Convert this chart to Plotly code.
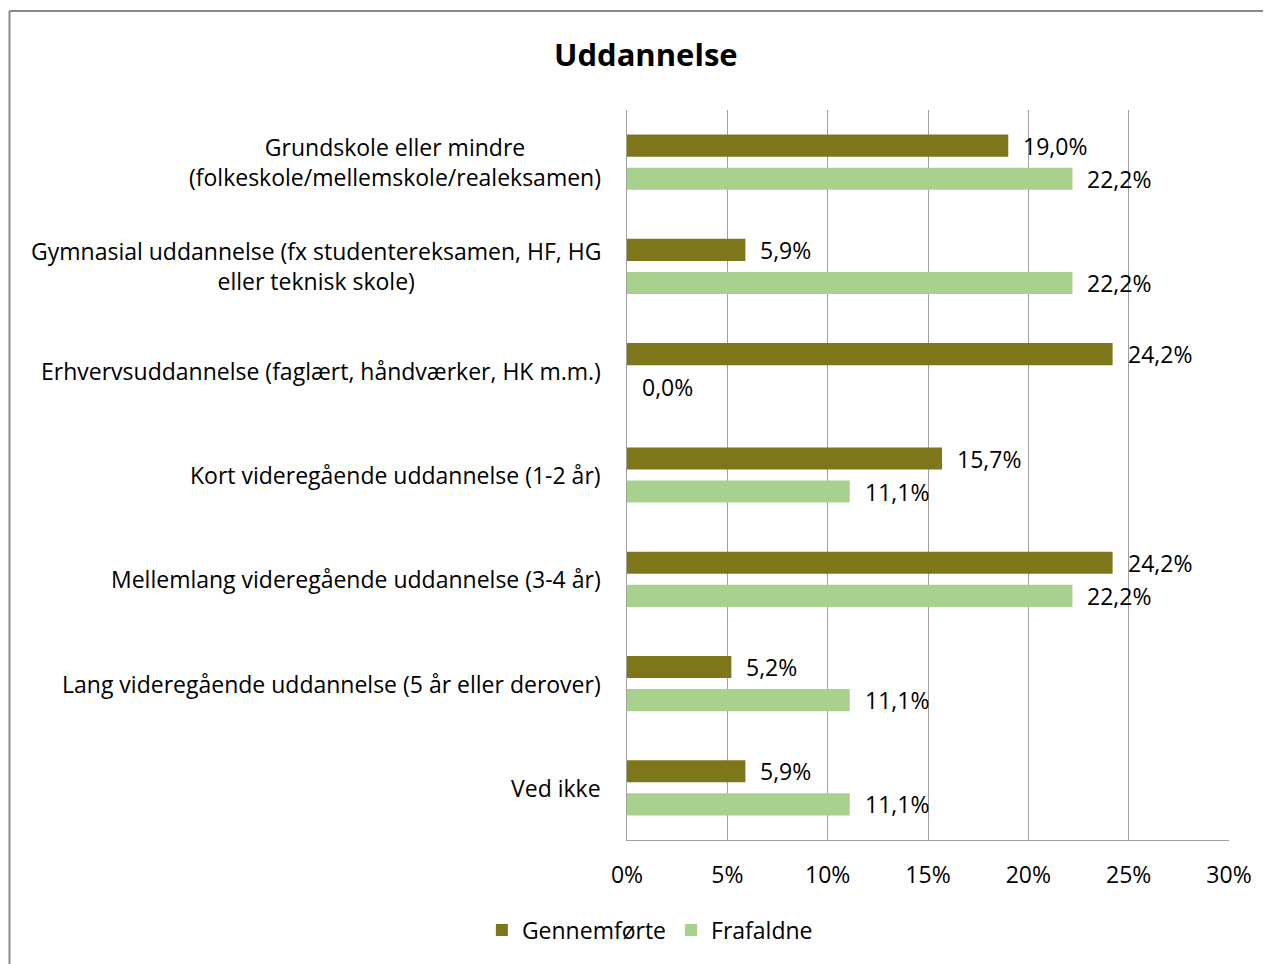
import plotly.graph_objects as go

categories = [
    "Grundskole eller mindre<br>(folkeskole/mellemskole/realeksamen)",
    "Gymnasial uddannelse (fx studentereksamen, HF, HG<br>eller teknisk skole)",
    "Erhvervsuddannelse (faglært, håndværker, HK m.m.)",
    "Kort videregående uddannelse (1-2 år)",
    "Mellemlang videregående uddannelse (3-4 år)",
    "Lang videregående uddannelse (5 år eller derover)",
    "Ved ikke",
]
gennemforte = [0.190, 0.059, 0.242, 0.157, 0.242, 0.052, 0.059]
frafaldne = [0.222, 0.222, 0.000, 0.111, 0.222, 0.111, 0.111]
x_ticks = [0, 0.05, 0.10, 0.15, 0.20, 0.25, 0.30]

OLIVE = "#7E761A"
LGREEN = "#A8D18D"
FONT = "'Open Sans', sans-serif"
FS = 23

# page has an 8px body margin; compensate so the plot lands where the reference has it
W, H = 1263, 956
ML, MT, PW, PH = 619, 102, 602, 730
MR = W - ML - PW
MB = H - MT - PH

fig = go.Figure()
fig.add_trace(go.Bar(y=categories, x=gennemforte, name="Gennemførte", orientation="h",
                     marker=dict(color=OLIVE, line=dict(width=0))))
fig.add_trace(go.Bar(y=categories, x=frafaldne, name="Frafaldne", orientation="h",
                     marker=dict(color=LGREEN, line=dict(width=0))))

annotations = []
for cat, g, f in zip(categories, gennemforte, frafaldne):
    for val, shift in ((g, 16.5), (f, -16.5)):
        annotations.append(dict(
            x=val, y=cat, xref="x", yref="y", xanchor="left", yanchor="middle",
            xshift=13, yshift=shift, showarrow=False,
            text=f"{val*100:.1f}%".replace(".", ","),
            font=dict(size=FS, color="#000", family=FONT)))
    annotations.append(dict(
        x=0, y=cat, xref="paper", yref="y", xanchor="right", yanchor="middle",
        xshift=-24, showarrow=False, align="center", text=cat,
        font=dict(size=FS, color="#000", family=FONT)))

fig.update_layout(
    width=W, height=H,
    margin=dict(l=ML, r=MR, t=MT, b=MB),
    paper_bgcolor="white", plot_bgcolor="white",
    separators=",.",
    barmode="group", bargap=0.365, bargroupgap=0.333,
    title=dict(text="<b>Uddannelse</b>", x=0.505, xanchor="center", y=1 - 47 / H, yanchor="middle",
               font=dict(size=31, color="#000", family=FONT)),
    font=dict(family=FONT, size=FS, color="#000"),
    legend=dict(orientation="h", x=0.038, xanchor="center", y=-0.094, yanchor="top",
                font=dict(size=FS, color="#000", family=FONT), traceorder="normal"),
    annotations=annotations,
    shapes=[
        dict(type="line", xref="paper", yref="paper",
             x0=(1.5 - ML) / PW, x1=(1300 - ML) / PW, y0=1 + (MT - 3) / PH, y1=1 + (MT - 3) / PH,
             line=dict(color="#888888", width=2)),
        dict(type="line", xref="paper", yref="paper",
             x0=(1.5 - ML) / PW, x1=(1.5 - ML) / PW, y0=1 + (MT - 3) / PH, y1=-0.5,
             line=dict(color="#888888", width=2)),
    ],
)
fig.update_xaxes(range=[0, 0.30], tickvals=x_ticks, tickformat=".0%",
                 showgrid=True, gridcolor="#A0A0A0", gridwidth=1,
                 showline=True, linecolor="#A0A0A0", linewidth=1,
                 zeroline=False, ticks="", ticklabelstandoff=14,
                 tickfont=dict(size=FS, color="#000", family=FONT))
fig.update_yaxes(autorange="reversed", showticklabels=False, showgrid=False,
                 showline=True, linecolor="#A0A0A0", linewidth=1, ticks="")

fig.write_html("out.html")
